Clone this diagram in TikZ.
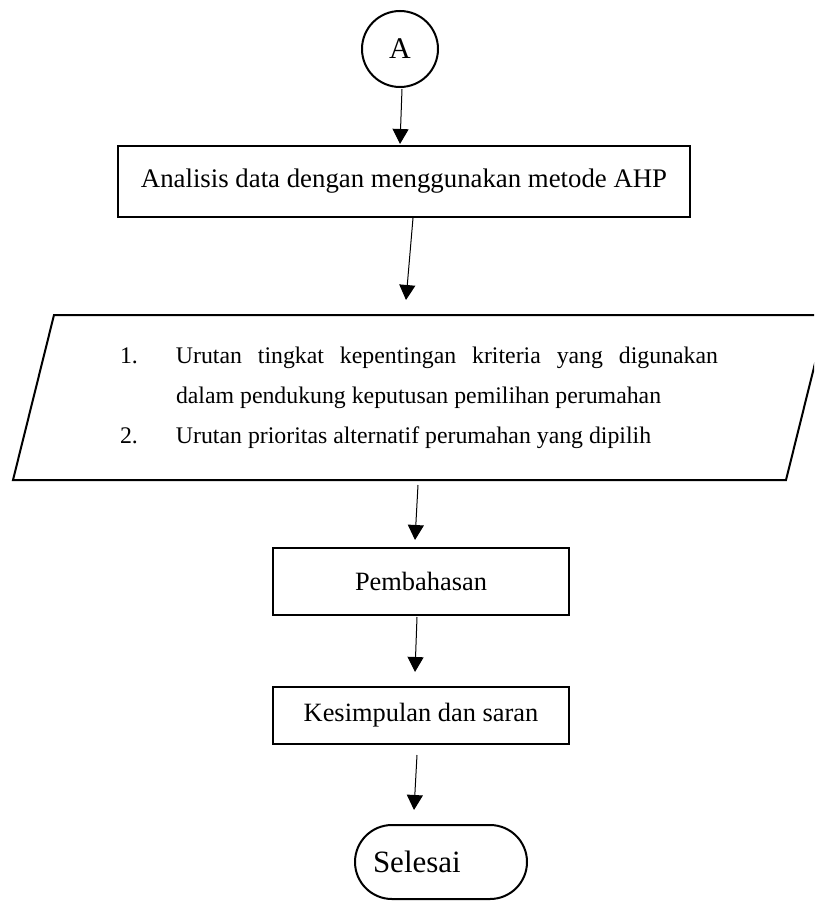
\documentclass[tikz,border=0pt]{standalone}
\usepackage{fontspec}
\setmainfont{Liberation Serif}
\usetikzlibrary{arrows.meta,calc}
\tikzset{
	box/.style={draw, line width=1pt, rectangle, inner sep=0, outer sep=0},
	term/.style={draw, line width=1pt, rectangle, rounded corners=18.5pt, inner ysep=0, inner xsep=9pt, outer sep=0},
	conn/.style={->, line width=0.5pt, shorten >=0pt}
}

\begin{document}
\begin{tikzpicture}[x=0.5pt, y=-0.5pt, >={Triangle[length=7.5pt,width=8pt]}]
	\useasboundingbox (0,0) rectangle (814,904);
	\clip (0,0) rectangle (814,904);
	\node[circle, draw, line width=1pt, minimum size=38pt, inner sep=0, font=\fontsize{15}{18}\selectfont] (A) at (400,49) {A};
	\node[box, minimum width=286pt, minimum height=35.5pt, font=\fontsize{13.4}{15}\selectfont] (ahp) at (404,181.5) {Analisis data dengan menggunakan metode AHP};
	% jajar genjang (output)
	\coordinate (pa) at (54,315);
	\coordinate (pb) at (827,315);
	\coordinate (pc) at (786,480);
	\coordinate (pd) at (13,480);
	\draw[line width=1pt] (pa) -- (pb) -- (pc) -- (pd) -- cycle;
	\node[text width=299pt, align=justify, inner sep=0, font=\fontsize{11.9}{20}\selectfont] (hasil) at (419,398) {\parindent=0pt \tolerance=10000
		\hangindent=28pt \hangafter=1 \makebox[28pt][l]{1.}Urutan tingkat kepentingan kriteria yang digunakan dalam pendukung keputusan pemilihan perumahan\par
		\hangindent=28pt \hangafter=1 \makebox[28pt][l]{2.}Urutan prioritas alternatif perumahan yang dipilih};
	\coordinate (hin) at (406,300);
	\coordinate (hout) at (418,485);
	\node[box, minimum width=148pt, minimum height=33.5pt, font=\fontsize{13.2}{15}\selectfont] (bahas) at (421,581.5) {Pembahasan};
	\node[box, minimum width=148pt, minimum height=28.5pt, font=\fontsize{13.2}{15}\selectfont] (simpul) at (421,715.5) {Kesimpulan dan saran};
	\node[term, text width=68pt, minimum height=37pt, align=left, font=\fontsize{15.5}{18}\selectfont] (selesai) at (441,862) {Selesai};
	% panah
	\path[conn] ([shift={(2,1)}]A.south) edge ([shift={(-4,-2)}]ahp.north);
	\path[conn] ([shift={(9,1)}]ahp.south) edge (hin);
	\path[conn] (hout) edge ([shift={(-6,-8)}]bahas.north);
	\path[conn] ([shift={(-4,2)}]bahas.south) edge ([shift={(-6,-15)}]simpul.north);
	\path[conn] ([shift={(-4,11)}]simpul.south) edge ([shift={(-27,-15)}]selesai.north);
\end{tikzpicture}
\end{document}
